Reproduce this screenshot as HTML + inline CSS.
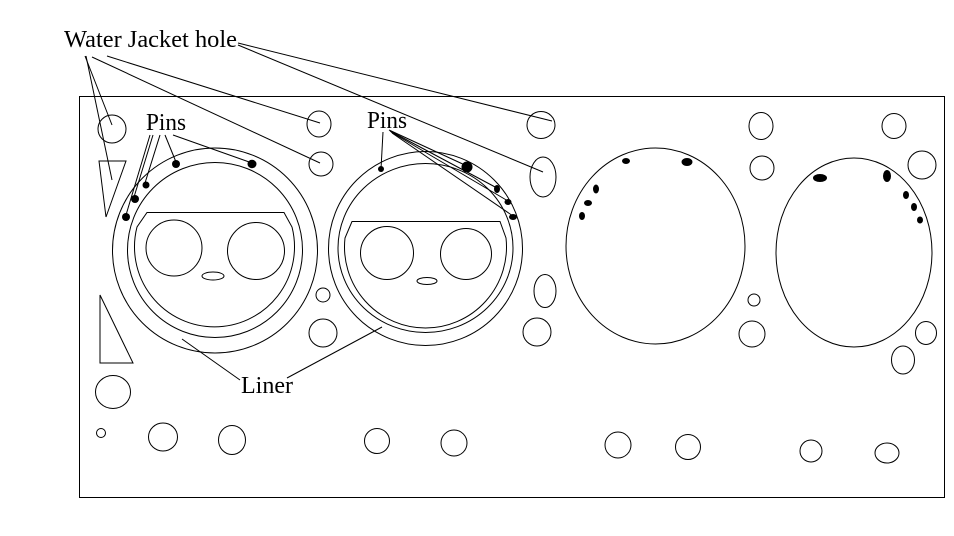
<!DOCTYPE html>
<html><head><meta charset="utf-8"><style>
html,body{margin:0;padding:0;background:#fff;}
svg{display:block;}
text{font-family:"Liberation Serif",serif;font-size:24px;fill:#000;}
</style></head><body>
<svg width="954" height="536" viewBox="0 0 954 536" xmlns="http://www.w3.org/2000/svg">
<g fill="none" stroke="#000" stroke-width="1">
<rect x="79.5" y="96.5" width="865" height="401"/>

<!-- leader lines: Water Jacket hole -->
<line x1="85" y1="56" x2="112" y2="125"/>
<line x1="86" y1="56" x2="112" y2="180"/>
<line x1="107" y1="56" x2="320" y2="123"/>
<line x1="92" y1="57" x2="320" y2="163"/>
<line x1="238" y1="43" x2="552" y2="121"/>
<line x1="238" y1="45" x2="543" y2="172"/>

<!-- left side holes -->
<circle cx="112" cy="129" r="14"/>
<polygon points="99,161 126,161 106,217"/>
<polygon points="100,295 100,363 133,363"/>
<ellipse cx="113" cy="392" rx="17.5" ry="16.5"/>
<circle cx="101" cy="433" r="4.5"/>
<ellipse cx="163" cy="437" rx="14.5" ry="14"/>
<ellipse cx="232" cy="440" rx="13.5" ry="14.5"/>
<circle cx="377" cy="441" r="12.5"/>
<circle cx="454" cy="443" r="13"/>
<circle cx="618" cy="445" r="13"/>
<circle cx="688" cy="447" r="12.5"/>
<circle cx="811" cy="451" r="11"/>
<ellipse cx="887" cy="453" rx="12" ry="10"/>

<!-- cylinder 1 -->
<circle cx="215" cy="250.5" r="102.5"/>
<circle cx="215" cy="250" r="87.5"/>
<path d="M147,212.5 L284,212.5 L292,227 A80 80 0 1 1 137,227 Z"/>
<circle cx="174" cy="248" r="28"/>
<circle cx="256" cy="251" r="28.5"/>
<ellipse cx="213" cy="276" rx="11" ry="4"/>

<!-- middle holes -->
<ellipse cx="319" cy="124" rx="12" ry="13"/>
<circle cx="321" cy="164" r="12"/>
<circle cx="323" cy="295" r="7"/>
<circle cx="323" cy="333" r="14"/>

<!-- cylinder 2 -->
<circle cx="425.5" cy="248.5" r="97"/>
<ellipse cx="425.5" cy="248" rx="87.5" ry="84.5"/>
<path d="M352,221.5 L500,221.5 L506,238 A81 81 0 1 1 345,238 Z"/>
<circle cx="387" cy="253" r="26.5"/>
<circle cx="466" cy="254" r="25.5"/>
<ellipse cx="427" cy="281" rx="10" ry="3.5"/>

<!-- holes column ~541 -->
<ellipse cx="541" cy="125" rx="14" ry="13.5"/>
<ellipse cx="543" cy="177" rx="13" ry="20"/>
<ellipse cx="545" cy="291" rx="11" ry="16.5"/>
<circle cx="537" cy="332" r="14"/>

<!-- cylinder 3 -->
<ellipse cx="655.5" cy="246" rx="89.5" ry="98"/>

<!-- holes column ~760 -->
<ellipse cx="761" cy="126" rx="12" ry="13.5"/>
<circle cx="762" cy="168" r="12"/>
<circle cx="754" cy="300" r="6"/>
<circle cx="752" cy="334" r="13"/>

<!-- cylinder 4 -->
<ellipse cx="854" cy="252.5" rx="78" ry="94.5"/>

<!-- right holes -->
<ellipse cx="894" cy="126" rx="12" ry="12.5"/>
<circle cx="922" cy="165" r="14"/>
<ellipse cx="926" cy="333" rx="10.5" ry="11.5"/>
<ellipse cx="903" cy="360" rx="11.5" ry="14"/>

<!-- Pins leaders 1 -->
<line x1="150" y1="135" x2="126" y2="215"/>
<line x1="153" y1="135" x2="134" y2="197"/>
<line x1="160" y1="135" x2="145" y2="183"/>
<line x1="165" y1="135" x2="176" y2="162"/>
<line x1="173" y1="135" x2="252" y2="163"/>

<!-- Pins leaders 2 -->
<line x1="383" y1="132" x2="381" y2="169"/>
<line x1="389" y1="130" x2="467" y2="166"/>
<line x1="390" y1="131" x2="497" y2="188"/>
<line x1="391" y1="132" x2="508" y2="201"/>
<line x1="392" y1="133" x2="513" y2="216"/>

<!-- Liner leaders -->
<line x1="182" y1="339" x2="240" y2="380"/>
<line x1="287" y1="378" x2="382" y2="327"/>
</g>

<g fill="#000" stroke="none">
<!-- pins cyl 1 -->
<circle cx="176" cy="164" r="4"/>
<ellipse cx="252" cy="164" rx="4.5" ry="4.2"/>
<circle cx="146" cy="185" r="3.5"/>
<circle cx="135" cy="199" r="4"/>
<circle cx="126" cy="217" r="4"/>
<!-- pins cyl 2 -->
<circle cx="381" cy="169" r="3"/>
<circle cx="467" cy="167" r="5.5"/>
<ellipse cx="497" cy="189" rx="3" ry="4"/>
<ellipse cx="508" cy="202" rx="3.5" ry="3"/>
<ellipse cx="513" cy="217" rx="4" ry="3"/>
<!-- pins cyl 3 -->
<ellipse cx="626" cy="161" rx="4" ry="3"/>
<ellipse cx="687" cy="162" rx="5.5" ry="4"/>
<ellipse cx="596" cy="189" rx="3" ry="4.5"/>
<ellipse cx="588" cy="203" rx="4" ry="3"/>
<ellipse cx="582" cy="216" rx="3" ry="4"/>
<!-- pins cyl 4 -->
<ellipse cx="820" cy="178" rx="7" ry="4"/>
<ellipse cx="887" cy="176" rx="4" ry="6"/>
<ellipse cx="906" cy="195" rx="3" ry="4"/>
<ellipse cx="914" cy="207" rx="3" ry="4"/>
<ellipse cx="920" cy="220" rx="3" ry="3.5"/>
</g>

<text x="64" y="47" textLength="173" lengthAdjust="spacingAndGlyphs">Water Jacket hole</text>
<text x="146" y="130" textLength="40" lengthAdjust="spacingAndGlyphs">Pins</text>
<text x="367" y="128" textLength="40" lengthAdjust="spacingAndGlyphs">Pins</text>
<text x="241" y="393" textLength="52" lengthAdjust="spacingAndGlyphs">Liner</text>
</svg>
</body></html>
